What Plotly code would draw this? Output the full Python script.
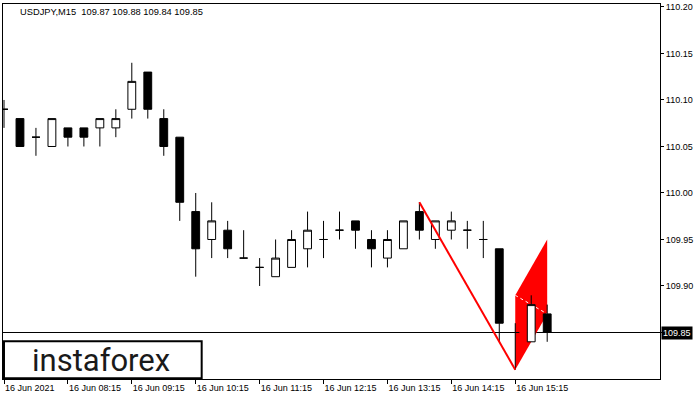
import plotly.graph_objects as go

# ---- data -------------------------------------------------------------
times = ["07:15", "07:30", "07:45", "08:00", "08:15", "08:30", "08:45", "09:00",
         "09:15", "09:30", "09:45", "10:00", "10:15", "10:30", "10:45", "11:00",
         "11:15", "11:30", "11:45", "12:00", "12:15", "12:30", "12:45", "13:00",
         "13:15", "13:30", "13:45", "14:00", "14:15", "14:30", "14:45", "15:00",
         "15:15", "15:30", "15:45"]
opens = [110.09, 110.08, 110.06, 110.05, 110.07, 110.07, 110.07, 110.07,
         110.09, 110.13, 110.08, 110.06, 109.98, 109.95, 109.96, 109.93,
         109.92, 109.91, 109.92, 109.94, 109.95, 109.96, 109.97, 109.95,
         109.93, 109.94, 109.98, 109.95, 109.96, 109.96, 109.95, 109.94,
         109.85, 109.84, 109.87]
highs = [110.10, 110.08, 110.07, 110.08, 110.07, 110.07, 110.08, 110.09,
         110.14, 110.13, 110.09, 110.06, 110.00, 109.99, 109.97, 109.96,
         109.93, 109.95, 109.96, 109.98, 109.97, 109.98, 109.97, 109.96,
         109.96, 109.97, 109.99, 109.97, 109.98, 109.97, 109.97, 109.94,
         109.86, 109.89, 109.88]
lows = [110.07, 110.05, 110.04, 110.05, 110.05, 110.05, 110.05, 110.06,
        110.08, 110.08, 110.04, 109.97, 109.91, 109.93, 109.93, 109.93,
        109.90, 109.91, 109.92, 109.92, 109.93, 109.95, 109.94, 109.92,
        109.92, 109.94, 109.95, 109.94, 109.95, 109.94, 109.93, 109.84,
        109.81, 109.84, 109.84]
closes = [110.09, 110.05, 110.06, 110.08, 110.06, 110.06, 110.08, 110.08,
          110.12, 110.09, 110.05, 109.99, 109.94, 109.97, 109.94, 109.93,
          109.92, 109.93, 109.95, 109.96, 109.95, 109.96, 109.96, 109.94,
          109.95, 109.97, 109.96, 109.97, 109.97, 109.96, 109.95, 109.86,
          109.85, 109.88, 109.85]

tick_vals = ["07:15", "08:15", "09:15", "10:15", "11:15", "12:15", "13:15", "14:15", "15:15"]
tick_text = ["16 Jun 2021", "16 Jun 08:15", "16 Jun 09:15", "16 Jun 10:15", "16 Jun 11:15",
             "16 Jun 12:15", "16 Jun 13:15", "16 Jun 14:15", "16 Jun 15:15"]
# 109.85 is shown by the current-price marker instead of a plain tick label
price_ticks = [109.90, 109.95, 110.00, 110.05, 110.10, 110.15, 110.20]

# bearish flag pattern
pole_x = ["13:45", "15:15"]
pole_y = [109.99, 109.81]
flag_x = ["15:15", "15:45"]
flag_upper = [109.89, 109.95]
flag_lower = [109.81, 109.87]

symbol = "USDJPY,M15"
last_close = closes[-1]

# ---- figure -----------------------------------------------------------
fig = go.Figure()

fig.add_trace(go.Candlestick(
    x=times, open=opens, high=highs, low=lows, close=closes,
    increasing=dict(fillcolor="white", line=dict(color="black", width=1)),
    decreasing=dict(fillcolor="black", line=dict(color="black", width=1)),
    whiskerwidth=0, hoverinfo="skip", showlegend=False,
))

fig.add_trace(go.Scatter(
    x=pole_x, y=pole_y, mode="lines",
    line=dict(color="#ff0000", width=2), hoverinfo="skip", showlegend=False,
))

# flag (drawn below the candles)
fx0 = times.index(flag_x[0])
fx1 = times.index(flag_x[1])
flag_path = (f"M {fx0} {flag_upper[0]} L {fx1} {flag_upper[1]} "
             f"L {fx1} {flag_lower[1]} L {fx0} {flag_lower[0]} Z")

shapes = [
    dict(type="path", path=flag_path, xref="x", yref="y", layer="below",
         fillcolor="#ff0000", line=dict(width=0)),
    dict(type="line", xref="x", yref="y", layer="below",
         x0=fx0, y0=flag_upper[0], x1=fx1, y1=flag_lower[1],
         line=dict(color="white", width=1, dash="dot")),
    dict(type="line", xref="paper", yref="y", layer="below",
         x0=0, x1=1, y0=last_close, y1=last_close,
         line=dict(color="black", width=1)),
    dict(type="line", xref="paper", yref="y", layer="above",
         x0=1, x1=1.006, y0=last_close, y1=last_close,
         line=dict(color="black", width=1)),
    dict(type="rect", xref="paper", yref="paper", layer="above",
         x0=0.0015, x1=0.3024, y0=0.002, y1=0.1008,
         fillcolor="white", line=dict(color="black", width=2)),
]

annotations = [
    dict(text=f"{symbol}  {opens[-1]:.2f} {highs[-1]:.2f} {lows[-1]:.2f} {closes[-1]:.2f}",
         xref="paper", yref="paper", x=0, y=1, xanchor="left", yanchor="top",
         xshift=15, yshift=-1, showarrow=False,
         font=dict(family="Liberation Sans", size=9.3, color="#000")),
    dict(text=f"{last_close:.2f}", xref="paper", yref="y", x=1, y=last_close,
         xanchor="left", yanchor="middle", xshift=1, showarrow=False,
         bgcolor="black", borderpad=1,
         font=dict(family="Liberation Sans", size=9, color="white")),
    dict(text="instaforex", xref="paper", yref="paper", x=0.149, y=0.05,
         xanchor="center", yanchor="middle", showarrow=False,
         font=dict(family="Roboto", size=31, color="#1a1a1a")),
]

fig.update_layout(
    width=700, height=400,
    margin=dict(l=2, r=40, t=2, b=21),
    paper_bgcolor="white", plot_bgcolor="white",
    shapes=shapes, annotations=annotations,
    showlegend=False,
    xaxis=dict(
        type="category", range=[-0.0625, 41.06],
        rangeslider=dict(visible=False),
        tickmode="array", tickvals=tick_vals, ticktext=tick_text,
        ticks="outside", ticklen=4, tickcolor="black",
        ticklabelposition="outside right",
        showgrid=False, zeroline=False,
        showline=True, linecolor="black", linewidth=1, mirror=True,
        tickfont=dict(family="Liberation Sans", size=9, color="#000"),
    ),
    yaxis=dict(
        side="right", range=[109.80, 110.2032],
        tickmode="array", tickvals=price_ticks, tickformat=".2f",
        ticks="outside", ticklen=3, tickcolor="black",
        showgrid=False, zeroline=False,
        showline=True, linecolor="black", linewidth=1, mirror=True,
        tickfont=dict(family="Liberation Sans", size=9, color="#000"),
    ),
)

fig.write_html("out.html", config={"displayModeBar": False},
               post_script="document.body.style.margin='0';document.body.style.overflow='hidden';")
